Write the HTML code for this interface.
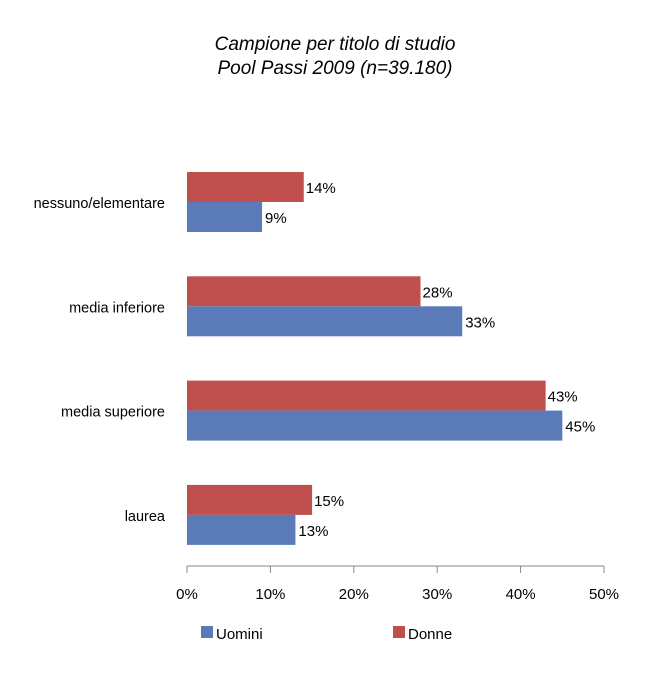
<!DOCTYPE html>
<html><head><meta charset="utf-8"><style>
body{margin:0;background:#fff;}
svg text{font-family:"Liberation Sans",sans-serif;}
</style></head><body>
<svg width="660" height="694">
<text x="335" y="50" text-anchor="middle" font-size="19" font-style="italic">Campione per titolo di studio</text>
<text x="335" y="74" text-anchor="middle" font-size="19" font-style="italic">Pool Passi 2009 (n=39.180)</text>
<g id="plot"></g>
<line x1="187" y1="566" x2="604" y2="566" stroke="#888" stroke-width="1"/>
<rect x="201" y="626" width="12" height="12" fill="#5a7ab8"/>
<text x="216" y="639" font-size="15">Uomini</text>
<rect x="393" y="626" width="12" height="12" fill="#c0504d"/>
<text x="408" y="639" font-size="15">Donne</text>
</svg>
<script>
const categories=["nessuno/elementare","media inferiore","media superiore","laurea"];
const donne=[14,28,43,15];
const uomini=[9,33,45,13];
const ticks=[0,10,20,30,40,50];
const tickLabels=["0%","10%","20%","30%","40%","50%"];
const NS="http://www.w3.org/2000/svg";
const g=document.getElementById('plot');
const x=v=>187+v*(604-187)/50;
const yCat=i=>172+i*104.3;
function mk(t,a){const e=document.createElementNS(NS,t);for(const k in a)e.setAttribute(k,a[k]);g.appendChild(e);return e;}
ticks.forEach((t,i)=>{
 const l=mk('line',{x1:x(t),x2:x(t),y1:566,y2:573,stroke:'#888'});
 
 
 const tx=mk('text',{x:x(t),y:599,'text-anchor':'middle','font-size':15});
 tx.textContent=tickLabels[i];
 
 
});
categories.forEach((c,i)=>{
 const y0=yCat(i);
 const lb=mk('text',{x:165,y:y0+36,'text-anchor':'end','font-size':14.5});
 lb.textContent=c;
 
 
 const r=mk('rect',{x:187,y:y0,width:x(donne[i])-187,height:30,fill:'#c0504d'});
 
 
 const b=mk('rect',{x:187,y:y0+30,width:x(uomini[i])-187,height:30,fill:'#5a7ab8'});
 
 
 const t1=mk('text',{x:x(donne[i])+2,y:y0+21,'font-size':15});
 t1.textContent=donne[i]+'%';
 
 
 const t2=mk('text',{x:x(uomini[i])+3,y:y0+51,'font-size':15});
 t2.textContent=uomini[i]+'%';
 
 
});
</script>
</body></html>
